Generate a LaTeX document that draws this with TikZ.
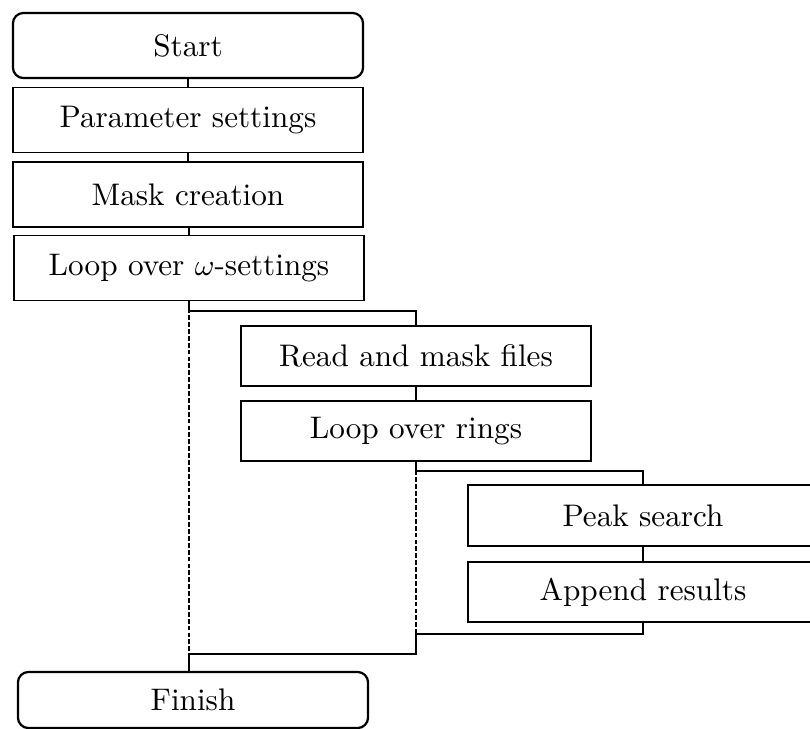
\documentclass[tikz,border=0pt]{standalone}
\usetikzlibrary{calc}
\begin{document}
\begin{tikzpicture}[
    x=0.33333pt, y=-0.33333pt,
    every node/.style={font=\fontsize{10.4}{12}\selectfont},
    stepbox/.style={draw, line width=0.4pt, rectangle, inner sep=0pt,
                    minimum width=116.7pt, minimum height=21.7pt},
    shortbox/.style={stepbox, minimum height=20pt},
    termbox/.style={draw, line width=0.75pt, rounded corners=3.5pt, inner sep=0pt,
                    minimum width=116.7pt, minimum height=21.7pt},
    link/.style={line width=0.35pt},
    loopback/.style={line width=0.45pt, dash pattern=on 1.6pt off 0.7pt}
  ]
  \path[use as bounding box] (0,0) rectangle (810,729);
  \clip (0,0) rectangle (810,729);

  % main sequence
  \node[termbox] (start) at (188,45.5) {Start};
  \node[stepbox] (param) at (188,120) {Parameter settings};
  \node[stepbox] (mask)  at (188,194.5) {Mask creation};
  \node[stepbox] (loopw) at (189,268) {Loop over $\omega$-settings};

  % body of the outer loop
  \node[shortbox] (read)  at (416,356) {Read and mask files};
  \node[shortbox] (rings) at (416,431) {Loop over rings};

  % body of the inner loop
  \node[shortbox, minimum height=20.3pt] (peak) at (643,515.5) {Peak search};
  \node[shortbox] (append) at (643,592) {Append results};

  % end of the program
  \node[termbox, minimum height=18.7pt] (finish) at (193,700) {Finish};

  % junction points of the loops
  \coordinate (j1) at (189,311);
  \coordinate (j2) at (416,471);
  \coordinate (r2) at (416,634);
  \coordinate (r2b) at (416,654);
  \coordinate (r1) at (193,654);

  % straight-through connectors
  \draw[link] (start.south) -- (param.north);
  \draw[link] (param.south) -- (mask.north);
  \draw[link] (mask.south) -- (loopw.south |- mask.south) -- (loopw.north);
  \draw[link] (read.south) -- (rings.north);
  \draw[link] (peak.south) -- (append.north);

  % entering the loops
  \draw[link] (loopw.south) -- (j1) -| (read.north);
  \draw[link] (rings.south) -- (j2) -| (peak.north);

  % leaving the inner loop
  \draw[link] (append.south) |- (r2) -- (r2b) -- (r1);
  \draw[loopback] (r2) -- (j2);

  % leaving the outer loop
  \draw[loopback] (r1) -- (j1 |- r1) -- (j1);
  \draw[link] (j1 |- r1) -- (finish.north -| j1);
\end{tikzpicture}
\end{document}
